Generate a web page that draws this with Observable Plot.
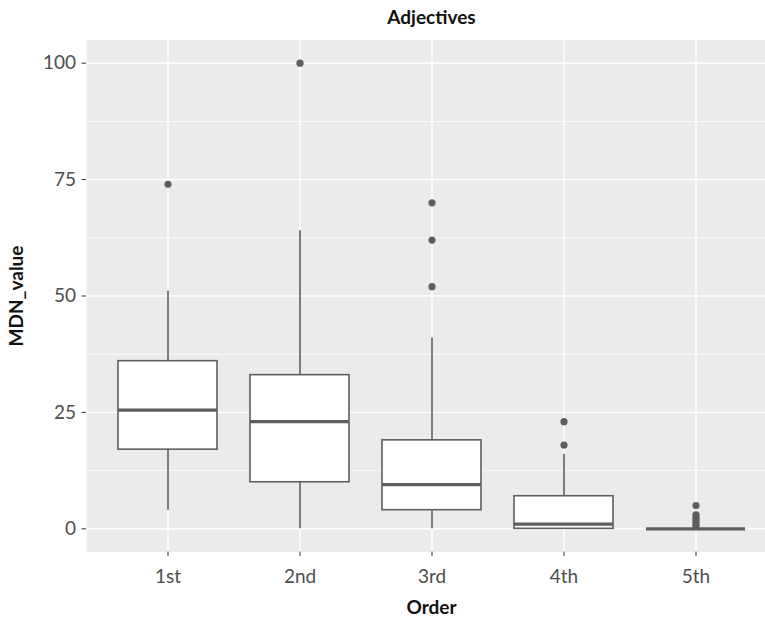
<!DOCTYPE html>
<html>
<head>
<meta charset="utf-8">
<script src="https://cdn.jsdelivr.net/npm/d3@7"></script>
<script src="https://cdn.jsdelivr.net/npm/@observablehq/plot@0.6"></script>
<style>
  html, body { margin: 0; padding: 0; background: #fff; overflow: hidden; }
  #wrap { width: 765px; height: 621px; overflow: hidden; }
  #wrap svg { max-width: none !important; }
</style>
</head>
<body>
<div id="wrap"></div>
<script>
const orders = ["1st", "2nd", "3rd", "4th", "5th"];
const lowerWhisker = [4, 0, 0, 0, 0];
const q1 = [17, 10, 4, 0, 0];
const median = [25.5, 23, 9.5, 1, 0];
const q3 = [36, 33, 19, 7, 0];
const upperWhisker = [51, 64, 41, 16, 0];
const outlierOrder = ["1st", "2nd", "3rd", "3rd", "3rd", "4th", "4th", "5th", "5th", "5th", "5th", "5th", "5th", "5th"];
const outlierValue = [74, 100, 70, 62, 52, 23, 18, 0.5, 1, 1.5, 2, 2.5, 3, 5];
const majorTicks = [0, 25, 50, 75, 100];
const minorTicks = [12.5, 37.5, 62.5, 87.5];

const boxes = orders.map((o, i) => ({
  order: o, lo: lowerWhisker[i], q1: q1[i], med: median[i], q3: q3[i], hi: upperWhisker[i]
}));
const outliers = outlierOrder.map((o, i) => ({order: o, value: outlierValue[i]}));

const FONT = "Lato, 'Noto Sans', sans-serif";
const ink = "#5e5e5e";

const chart = Plot.plot({
  width: 776,
  height: 621,
  marginLeft: 86,
  marginRight: 0,
  marginTop: 39.4,
  marginBottom: 69.4,
  style: {fontFamily: FONT, fontSize: "19px", background: "#fff", overflow: "visible", maxWidth: "none"},
  x: {domain: orders, paddingInner: 0.25, paddingOuter: 0.225, label: null},
  y: {domain: [-5, 105], label: null},
  marks: [
    Plot.frame({fill: "#EBEBEB", stroke: null}),
    Plot.gridY(minorTicks, {stroke: "#fff", strokeOpacity: 1, strokeWidth: 0.7}),
    Plot.gridY(majorTicks, {stroke: "#fff", strokeOpacity: 1, strokeWidth: 1.4}),
    Plot.gridX(orders, {stroke: "#fff", strokeOpacity: 1, strokeWidth: 1.4}),
    Plot.ruleX(boxes, {x: "order", y1: "q3", y2: "hi", stroke: ink, strokeWidth: 1.6}),
    Plot.ruleX(boxes, {x: "order", y1: "lo", y2: "q1", stroke: ink, strokeWidth: 1.6}),
    Plot.barY(boxes, {x: "order", y1: "q1", y2: "q3", fill: "#fff", stroke: ink, strokeWidth: 1.6}),
    Plot.tickY(boxes, {x: "order", y: "med", stroke: ink, strokeWidth: 3.2}),
    Plot.dot(outliers, {x: "order", y: "value", r: 3.6, fill: ink, stroke: null}),
    Plot.axisY(majorTicks, {tickSize: 4.5, tickPadding: 6, stroke: "#333", fill: "#4d4d4d", fontSize: 19, label: null}),
    Plot.axisX(orders, {tickSize: 4.5, tickPadding: 13, stroke: "#333", fill: "#4d4d4d", fontSize: 19, label: null}),
    Plot.text(["Adjectives"], {frameAnchor: "top", dy: -29, fontWeight: "bold", fontSize: 19, fill: "#111"}),
    Plot.text(["Order"], {frameAnchor: "bottom", dy: 62, fontWeight: "bold", fontSize: 19, fill: "#111"}),
    Plot.text(["MDN_value"], {frameAnchor: "left", dx: -70, rotate: -90, textAnchor: "middle", lineAnchor: "middle", fontWeight: "bold", fontSize: 19, fill: "#111"})
  ]
});
document.getElementById("wrap").appendChild(chart);
</script>
</body>
</html>
